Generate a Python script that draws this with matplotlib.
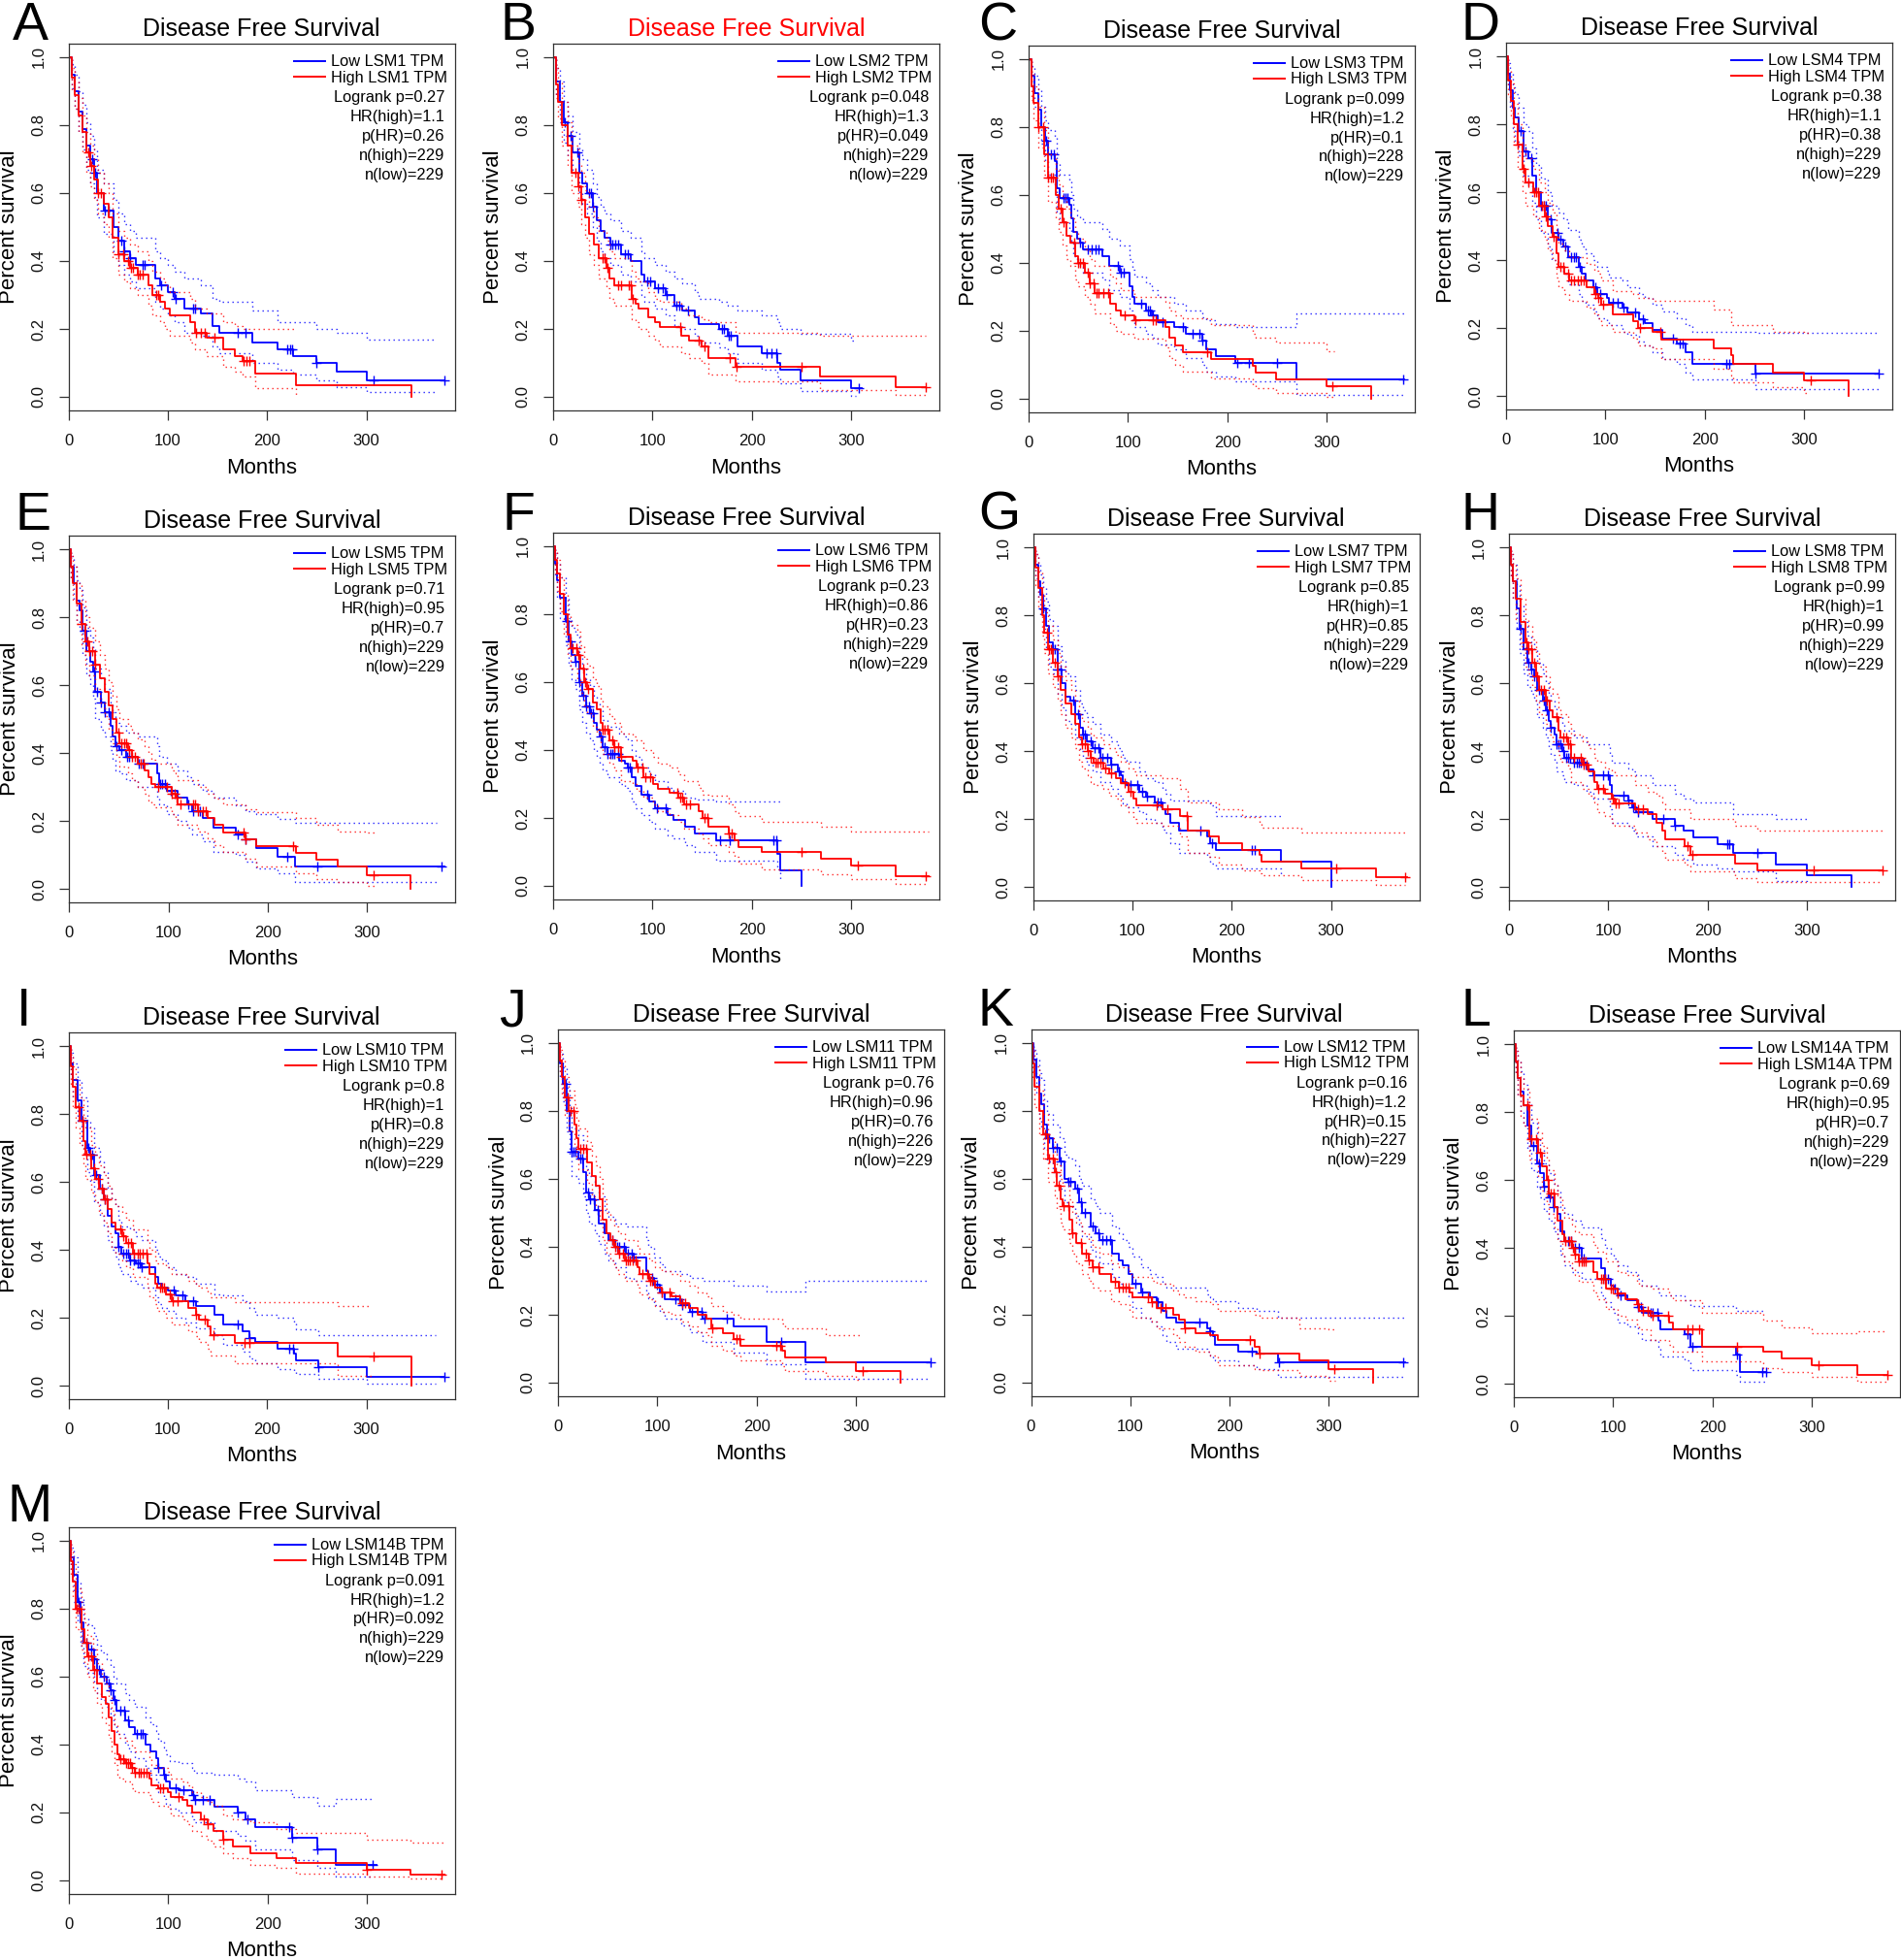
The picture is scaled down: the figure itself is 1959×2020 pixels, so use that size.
import numpy as np
import matplotlib
matplotlib.use('Agg')
import matplotlib.pyplot as plt

plt.rcParams['font.family'] = ['Liberation Sans', 'DejaVu Sans']

# ---------------- data (months, survival) ----------------
# A  LSM1
A_low_t = [0, 3, 6, 10, 14, 18, 22, 26, 29, 35, 45, 50, 56, 62, 68, 87, 92, 100, 107, 117, 133, 145, 152, 185, 210, 226, 250, 270, 300]
A_low_s = [1, .95, .90, .84, .79, .74, .70, .66, .60, .55, .50, .46, .43, .41, .39, .35, .33, .31, .29, .26, .245, .21, .19, .16, .14, .12, .10, .075, .05]
A_low_up = [1, .98, .95, .90, .86, .81, .77, .73, .67, .63, .58, .54, .51, .49, .47, .43, .41, .39, .37, .35, .33, .29, .28, .255, .22, .22, .20, .19, .17]
A_low_lo = [1, .91, .85, .78, .73, .67, .63, .59, .53, .48, .43, .39, .36, .34, .32, .28, .26, .24, .22, .19, .18, .15, .13, .10, .08, .065, .05, .03, .014]
A_low_cens = [24, 27, 36, 40, 53, 56, 62, 75, 77, 93, 105, 108, 125, 127, 170, 178, 220, 223, 225, 250, 307, 379]
A_high_t = [0, 3, 6, 10, 14, 18, 22, 26, 30, 35, 40, 44, 50, 56, 62, 70, 80, 84, 92, 97, 102, 122, 127, 139, 156, 167, 175, 188, 229, 345]
A_high_s = [1, .94, .89, .83, .78, .72, .68, .64, .60, .57, .53, .47, .42, .40, .38, .36, .33, .30, .28, .26, .24, .22, .19, .175, .14, .12, .105, .07, .035, 0]
A_high_up = [1, .97, .93, .88, .83, .78, .74, .70, .66, .63, .60, .54, .49, .47, .45, .43, .40, .37, .35, .33, .31, .29, .26, .245, .22, .21, .20, .20, .20, .20]
A_high_lo = [1, .90, .85, .78, .72, .66, .62, .58, .54, .51, .47, .41, .36, .34, .32, .30, .27, .24, .22, .20, .18, .16, .14, .12, .09, .075, .06, .027, .005, 0]
A_high_cens = [20, 23, 30, 33, 50, 55, 60, 63, 65, 70, 72, 75, 88, 90, 128, 133, 137, 147, 176, 179, 182]

# B  LSM2
B_low_t = [0, 3, 7, 11, 15, 20, 26, 29, 34, 40, 44, 48, 52, 58, 68, 78, 89, 92, 103, 113, 122, 130, 143, 147, 167, 176, 186, 210, 226, 229, 249, 300]
B_low_s = [1, .93, .87, .81, .77, .72, .66, .63, .60, .56, .52, .49, .47, .45, .42, .40, .36, .34, .32, .30, .27, .255, .235, .215, .20, .18, .15, .13, .10, .08, .05, .025]
B_low_up = [1, .97, .93, .87, .83, .78, .73, .70, .67, .63, .59, .56, .54, .52, .49, .47, .43, .41, .39, .37, .35, .335, .31, .29, .28, .27, .255, .24, .22, .20, .185, .165]
B_low_lo = [1, .89, .82, .75, .71, .66, .60, .57, .54, .50, .46, .43, .41, .39, .36, .34, .30, .28, .26, .24, .21, .20, .18, .16, .145, .13, .10, .08, .06, .04, .017, .002]
B_low_cens = [12, 18, 24, 36, 38, 40, 58, 60, 63, 65, 72, 75, 95, 98, 106, 110, 114, 124, 127, 136, 170, 172, 177, 179, 215, 220, 225, 308]
B_high_t = [0, 3, 5, 9, 15, 19, 25, 28, 32, 36, 41, 46, 54, 57, 62, 79, 83, 86, 96, 103, 108, 129, 137, 150, 156, 184, 269, 345]
B_high_s = [1, .92, .87, .80, .74, .66, .62, .58, .53, .48, .45, .41, .38, .35, .33, .29, .275, .26, .235, .22, .205, .18, .165, .15, .115, .09, .06, .03]
B_high_up = [1, .97, .93, .87, .81, .74, .69, .66, .61, .56, .53, .49, .46, .43, .41, .37, .35, .34, .31, .29, .28, .26, .24, .23, .22, .19, .18, .18]
B_high_lo = [1, .88, .82, .74, .68, .60, .56, .51, .47, .42, .39, .35, .32, .29, .27, .23, .22, .20, .18, .165, .15, .13, .115, .10, .065, .045, .02, .005]
B_high_cens = [22, 25, 28, 50, 52, 55, 65, 68, 76, 78, 80, 128, 147, 152, 178, 185, 250, 375]

# C  LSM3
C_low_t = [0, 3, 6, 10, 13, 17, 20, 26, 28, 31, 41, 43, 45, 49, 52, 55, 74, 81, 92, 102, 105, 107, 118, 124, 130, 147, 158, 175, 179, 189, 208, 270]
C_low_s = [1, .95, .90, .85, .80, .76, .72, .70, .62, .59, .57, .53, .49, .47, .46, .44, .42, .39, .37, .33, .30, .28, .26, .245, .225, .21, .19, .17, .145, .125, .105, .055]
C_low_up = [1, .98, .95, .91, .86, .82, .79, .77, .69, .66, .64, .60, .56, .54, .53, .52, .50, .47, .45, .41, .38, .36, .34, .32, .30, .28, .26, .24, .23, .22, .21, .25]
C_low_lo = [1, .92, .86, .80, .75, .70, .66, .63, .55, .52, .50, .46, .42, .40, .39, .37, .35, .32, .30, .26, .23, .21, .19, .18, .16, .145, .12, .10, .08, .065, .05, .01]
C_low_cens = [18, 22, 25, 35, 37, 39, 52, 60, 64, 67, 70, 90, 93, 96, 113, 120, 122, 125, 135, 155, 165, 172, 175, 210, 222, 250, 377]
C_high_t = [0, 3, 5, 10, 16, 20, 27, 30, 34, 38, 42, 47, 50, 57, 62, 66, 82, 88, 93, 107, 138, 142, 148, 155, 184, 226, 229, 249, 300, 345]
C_high_s = [1, .92, .87, .80, .72, .65, .60, .56, .52, .48, .46, .42, .40, .37, .34, .31, .28, .26, .245, .23, .21, .18, .155, .135, .115, .095, .075, .055, .035, 0]
C_high_up = [1, .96, .92, .86, .79, .72, .67, .63, .59, .56, .53, .49, .47, .44, .41, .39, .36, .34, .32, .30, .285, .26, .245, .235, .215, .19, .18, .165, .14, .14]
C_high_lo = [1, .88, .82, .74, .66, .58, .53, .49, .45, .41, .39, .35, .33, .30, .28, .25, .22, .20, .19, .175, .15, .12, .10, .08, .06, .04, .03, .015, .005, 0]
C_high_cens = [10, 15, 20, 22, 24, 32, 35, 46, 50, 52, 55, 60, 62, 65, 68, 70, 75, 80, 97, 108, 125, 128, 180, 306]

# D  LSM4
D_low_t = [0, 2, 4, 7, 9, 13, 18, 22, 26, 30, 35, 42, 46, 53, 58, 63, 73, 76, 80, 88, 92, 102, 104, 117, 122, 134, 140, 148, 157, 172, 181, 188, 251]
D_low_s = [1, .95, .90, .85, .82, .78, .72, .70, .65, .60, .56, .52, .48, .46, .44, .41, .38, .36, .34, .32, .30, .29, .275, .26, .245, .225, .215, .195, .17, .155, .13, .095, .065]
D_low_up = [1, .98, .95, .91, .89, .85, .80, .78, .73, .68, .64, .60, .56, .54, .52, .49, .46, .44, .42, .40, .38, .37, .35, .34, .32, .30, .29, .27, .25, .23, .21, .19, .185]
D_low_lo = [1, .91, .85, .79, .75, .71, .65, .62, .57, .52, .48, .44, .40, .38, .36, .33, .30, .28, .27, .25, .23, .22, .21, .19, .18, .16, .15, .13, .11, .095, .07, .048, .02]
D_low_cens = [15, 20, 25, 35, 38, 40, 45, 52, 55, 60, 65, 68, 70, 74, 90, 95, 108, 112, 118, 130, 138, 168, 175, 178, 222, 225, 251, 375]
D_high_t = [0, 2, 5, 8, 12, 17, 20, 27, 33, 39, 42, 47, 51, 53, 59, 64, 81, 89, 93, 96, 108, 128, 133, 148, 156, 209, 227, 229, 269, 300, 345]
D_high_s = [1, .93, .87, .80, .74, .67, .63, .60, .56, .53, .50, .47, .42, .38, .36, .34, .32, .30, .29, .27, .24, .22, .20, .19, .165, .14, .12, .095, .07, .045, 0]
D_high_up = [1, .96, .92, .86, .80, .74, .70, .67, .63, .60, .57, .54, .49, .45, .43, .41, .39, .37, .36, .34, .31, .30, .29, .28, .28, .255, .21, .21, .19, .185, .185]
D_high_lo = [1, .89, .82, .74, .67, .60, .56, .53, .49, .46, .43, .40, .35, .32, .30, .28, .26, .24, .23, .21, .19, .17, .15, .14, .11, .08, .06, .04, .025, .01, 0]
D_high_cens = [12, 18, 22, 28, 30, 32, 36, 38, 40, 48, 55, 58, 63, 65, 68, 72, 75, 78, 90, 93, 98, 135, 155, 307]

# E  LSM5
E_low_t = [0, 2, 5, 8, 10, 13, 17, 21, 24, 26, 32, 36, 42, 44, 47, 51, 57, 69, 89, 91, 98, 109, 119, 124, 135, 145, 168, 178, 188, 210, 227]
E_low_s = [1, .95, .90, .85, .82, .76, .70, .67, .64, .58, .55, .52, .48, .45, .42, .41, .39, .37, .34, .31, .29, .27, .25, .23, .21, .18, .16, .145, .12, .095, .065]
E_low_up = [1, .98, .95, .91, .88, .83, .77, .74, .71, .65, .62, .59, .55, .52, .49, .48, .46, .45, .42, .39, .37, .35, .33, .31, .29, .27, .245, .23, .22, .205, .195]
E_low_lo = [1, .91, .85, .79, .76, .69, .63, .60, .56, .50, .47, .45, .41, .38, .35, .34, .32, .30, .27, .25, .22, .20, .18, .16, .14, .11, .10, .08, .06, .045, .02]
E_low_cens = [15, 25, 28, 32, 36, 40, 48, 52, 58, 60, 70, 74, 92, 94, 96, 102, 120, 125, 132, 170, 178, 220, 250, 375]
E_high_t = [0, 2, 4, 8, 12, 16, 20, 26, 31, 36, 40, 44, 48, 51, 59, 63, 69, 76, 80, 83, 87, 103, 107, 109, 130, 139, 146, 155, 178, 188, 228, 249, 270, 300, 344]
E_high_s = [1, .95, .90, .84, .78, .73, .70, .66, .62, .58, .54, .50, .46, .43, .41, .39, .37, .35, .33, .31, .30, .28, .27, .25, .23, .21, .19, .165, .145, .125, .105, .085, .065, .04, 0]
E_high_up = [1, .98, .95, .90, .85, .80, .77, .73, .69, .65, .61, .57, .53, .50, .48, .46, .44, .42, .40, .38, .37, .35, .34, .32, .30, .28, .265, .25, .235, .225, .21, .19, .17, .165, .165]
E_high_lo = [1, .91, .85, .78, .72, .66, .63, .59, .55, .51, .47, .43, .39, .36, .34, .32, .30, .28, .26, .25, .24, .22, .21, .19, .17, .15, .13, .11, .09, .065, .045, .03, .02, .01, 0]
E_high_cens = [12, 18, 20, 23, 26, 50, 52, 55, 57, 60, 63, 66, 72, 75, 90, 98, 103, 106, 108, 112, 125, 127, 130, 135, 138, 176, 178, 225, 307]

# F  LSM6
F_low_t = [0, 2, 4, 7, 13, 16, 19, 22, 26, 29, 33, 37, 41, 44, 47, 50, 55, 66, 72, 75, 79, 83, 89, 97, 103, 115, 121, 133, 143, 164, 226, 229, 250]
F_low_s = [1, .95, .90, .85, .78, .72, .68, .66, .60, .56, .53, .51, .48, .46, .44, .41, .39, .37, .36, .35, .32, .295, .27, .25, .23, .21, .195, .175, .155, .135, .095, .045, 0]
F_low_up = [1, .98, .95, .91, .85, .79, .76, .74, .68, .64, .61, .59, .56, .54, .52, .49, .47, .45, .44, .43, .40, .38, .35, .33, .31, .29, .28, .26, .255, .25, .25, .25, .25]
F_low_lo = [1, .91, .85, .79, .71, .65, .61, .58, .52, .48, .45, .43, .40, .38, .36, .34, .32, .30, .29, .28, .25, .23, .21, .19, .17, .15, .14, .12, .10, .075, .05, .02, 0]
F_low_cens = [14, 18, 22, 26, 30, 33, 36, 38, 40, 48, 52, 55, 58, 60, 62, 65, 75, 77, 95, 105, 113, 168, 178, 222, 225]
F_high_t = [0, 2, 4, 7, 11, 15, 18, 24, 27, 31, 34, 40, 44, 48, 50, 57, 62, 68, 80, 84, 91, 101, 106, 117, 126, 132, 147, 151, 156, 177, 183, 187, 210, 270, 300, 345]
F_high_s = [1, .96, .92, .86, .80, .74, .70, .68, .64, .60, .58, .54, .52, .48, .46, .43, .41, .38, .37, .35, .32, .30, .285, .275, .26, .24, .22, .20, .175, .155, .135, .115, .10, .08, .06, .03]
F_high_up = [1, .99, .96, .91, .86, .80, .77, .75, .71, .67, .65, .61, .59, .55, .53, .50, .48, .45, .44, .43, .40, .38, .36, .35, .33, .31, .29, .27, .265, .24, .22, .205, .19, .175, .16, .16]
F_high_lo = [1, .92, .87, .81, .74, .68, .64, .61, .57, .53, .51, .47, .45, .41, .39, .36, .34, .31, .30, .28, .26, .24, .22, .21, .19, .17, .155, .14, .12, .10, .085, .065, .05, .035, .02, .005]
F_high_cens = [20, 23, 25, 30, 32, 35, 50, 52, 55, 60, 62, 65, 68, 85, 90, 93, 98, 125, 128, 130, 134, 138, 152, 155, 177, 180, 250, 307, 375]

# G  LSM7
G_low_t = [0, 2, 5, 7, 10, 13, 16, 20, 25, 29, 33, 37, 42, 47, 50, 54, 60, 68, 78, 85, 88, 90, 94, 107, 114, 122, 130, 133, 138, 147, 175, 178, 184, 250, 300]
G_low_s = [1, .95, .90, .86, .82, .77, .72, .70, .64, .60, .56, .55, .51, .47, .45, .43, .41, .38, .36, .34, .33, .31, .30, .28, .265, .25, .23, .215, .19, .165, .15, .13, .11, .075, 0]
G_low_up = [1, .98, .95, .92, .88, .84, .79, .77, .71, .67, .63, .62, .58, .54, .52, .50, .48, .45, .43, .41, .40, .38, .37, .34, .32, .31, .29, .275, .255, .255, .255, .24, .21, .21, .21]
G_low_lo = [1, .91, .85, .80, .76, .70, .65, .63, .57, .53, .49, .48, .44, .40, .38, .36, .34, .31, .29, .27, .26, .245, .235, .22, .20, .19, .17, .16, .13, .10, .09, .07, .055, .035, 0]
G_low_cens = [10, 20, 22, 25, 28, 40, 45, 50, 52, 58, 62, 66, 70, 75, 78, 86, 98, 105, 110, 115, 125, 128, 168, 180, 220, 223]
G_high_t = [0, 2, 5, 9, 11, 15, 20, 25, 28, 33, 38, 42, 46, 49, 55, 58, 61, 71, 77, 83, 88, 96, 101, 104, 130, 148, 156, 177, 187, 210, 228, 230, 270, 345]
G_high_s = [1, .94, .88, .80, .75, .70, .66, .62, .58, .54, .51, .48, .44, .42, .40, .38, .365, .35, .335, .32, .305, .28, .26, .24, .23, .21, .165, .15, .13, .11, .095, .075, .055, .03]
G_high_up = [1, .98, .93, .86, .81, .77, .73, .69, .65, .61, .58, .55, .51, .49, .47, .45, .44, .42, .41, .39, .37, .35, .34, .33, .32, .29, .25, .25, .23, .205, .19, .175, .16, .16]
G_high_lo = [1, .89, .82, .74, .69, .63, .59, .55, .51, .47, .44, .41, .37, .35, .33, .31, .30, .29, .27, .26, .24, .22, .20, .19, .18, .15, .10, .09, .065, .05, .04, .035, .02, .005]
G_high_cens = [14, 16, 18, 22, 25, 49, 52, 55, 58, 63, 65, 68, 73, 78, 92, 98, 124, 135, 155, 305, 375]

# H  LSM8
H_low_t = [0, 2, 4, 8, 11, 15, 19, 22, 25, 28, 34, 37, 40, 42, 46, 48, 54, 56, 65, 78, 85, 102, 104, 120, 124, 128, 145, 167, 176, 186, 210, 226, 269, 300, 345]
H_low_s = [1, .95, .90, .82, .76, .70, .66, .64, .62, .58, .55, .52, .49, .47, .45, .42, .40, .38, .365, .345, .33, .30, .27, .255, .235, .22, .20, .18, .165, .145, .125, .10, .065, .035, 0]
H_low_up = [1, .98, .95, .89, .83, .78, .74, .72, .70, .66, .63, .60, .57, .55, .53, .50, .48, .46, .44, .42, .42, .39, .365, .35, .34, .33, .30, .275, .26, .25, .25, .215, .20, .20, .20]
H_low_lo = [1, .91, .85, .76, .69, .63, .59, .57, .55, .50, .47, .44, .41, .39, .37, .34, .33, .31, .30, .28, .26, .23, .19, .18, .165, .15, .12, .095, .08, .065, .055, .045, .018, .005, 0]
H_low_cens = [12, 18, 20, 22, 25, 30, 35, 38, 42, 48, 50, 52, 55, 58, 60, 62, 65, 68, 70, 72, 75, 85, 95, 100, 115, 120, 125, 130, 155, 167, 220, 222, 250]
H_high_t = [0, 2, 4, 7, 12, 17, 20, 23, 27, 30, 37, 41, 44, 50, 52, 60, 63, 74, 80, 86, 89, 97, 104, 107, 127, 140, 149, 154, 157, 177, 183, 228, 250]
H_high_s = [1, .95, .90, .85, .78, .72, .70, .66, .62, .58, .55, .52, .50, .46, .44, .42, .38, .36, .34, .31, .29, .275, .26, .245, .23, .215, .19, .165, .14, .12, .095, .07, .05]
H_high_up = [1, .98, .95, .91, .85, .79, .77, .73, .69, .65, .62, .59, .57, .53, .51, .48, .45, .43, .41, .38, .37, .35, .34, .33, .30, .28, .27, .25, .23, .23, .20, .18, .165]
H_high_lo = [1, .91, .85, .79, .71, .65, .63, .59, .55, .51, .48, .45, .43, .39, .37, .35, .31, .29, .27, .25, .22, .21, .19, .18, .16, .14, .12, .10, .08, .065, .045, .025, .015]
H_high_cens = [18, 20, 22, 25, 28, 32, 35, 38, 48, 55, 58, 60, 62, 65, 72, 75, 78, 90, 95, 105, 108, 110, 130, 135, 180, 185, 307, 376]

# I  LSM10
I_low_t = [0, 2, 4, 9, 13, 19, 22, 26, 32, 35, 39, 43, 47, 50, 53, 62, 68, 74, 87, 90, 94, 100, 108, 118, 128, 147, 156, 175, 182, 188, 210, 227, 229, 251, 300]
I_low_s = [1, .95, .90, .84, .78, .70, .68, .62, .58, .55, .50, .47, .45, .41, .39, .37, .36, .35, .32, .30, .29, .28, .265, .25, .235, .21, .18, .16, .14, .13, .11, .095, .075, .055, .025]
I_low_up = [1, .98, .95, .90, .85, .78, .76, .70, .66, .63, .58, .55, .53, .49, .47, .46, .44, .43, .40, .38, .37, .35, .33, .32, .30, .27, .265, .25, .23, .21, .20, .185, .165, .15, .15]
I_low_lo = [1, .91, .85, .78, .71, .63, .60, .54, .50, .47, .43, .40, .38, .35, .33, .31, .30, .29, .26, .24, .23, .22, .20, .185, .17, .15, .12, .10, .08, .065, .05, .04, .035, .02, .005]
I_low_cens = [14, 20, 24, 28, 34, 36, 50, 55, 58, 60, 62, 66, 70, 72, 74, 106, 115, 125, 170, 182, 222, 226, 251, 379]
I_high_t = [0, 2, 4, 7, 11, 15, 17, 23, 27, 31, 35, 39, 43, 47, 54, 58, 65, 79, 81, 87, 89, 98, 104, 121, 128, 131, 140, 143, 167, 271, 345]
I_high_s = [1, .94, .88, .82, .78, .72, .68, .64, .61, .58, .55, .52, .48, .46, .44, .42, .39, .36, .33, .30, .29, .27, .25, .23, .21, .195, .175, .15, .125, .085, 0]
I_high_up = [1, .97, .94, .89, .85, .79, .76, .71, .68, .65, .62, .59, .55, .53, .51, .49, .46, .43, .40, .37, .36, .35, .33, .31, .295, .29, .275, .26, .245, .235, .235]
I_high_lo = [1, .89, .82, .76, .71, .65, .61, .57, .54, .51, .48, .45, .41, .39, .37, .35, .32, .29, .26, .24, .22, .20, .18, .16, .145, .13, .11, .09, .065, .03, 0]
I_high_cens = [10, 14, 18, 22, 26, 30, 34, 36, 38, 52, 55, 60, 63, 66, 70, 72, 75, 78, 92, 94, 96, 102, 105, 110, 128, 137, 146, 177, 182, 307]

# J  LSM11
J_low_t = [0, 2, 5, 9, 12, 14, 21, 25, 28, 31, 37, 41, 47, 51, 58, 68, 76, 89, 91, 97, 103, 108, 124, 133, 146, 177, 210, 249]
J_low_s = [1, .94, .88, .80, .74, .68, .66, .62, .56, .54, .51, .47, .44, .42, .40, .38, .37, .33, .31, .29, .265, .245, .23, .21, .19, .165, .12, .06]
J_low_up = [1, .97, .93, .87, .81, .75, .73, .69, .63, .61, .58, .55, .51, .49, .47, .46, .46, .42, .40, .37, .35, .33, .32, .31, .30, .285, .27, .30]
J_low_lo = [1, .90, .83, .74, .67, .61, .59, .55, .50, .47, .44, .41, .38, .36, .34, .31, .30, .27, .25, .23, .21, .19, .17, .15, .12, .09, .055, .012]
J_low_cens = [8, 14, 16, 18, 22, 24, 30, 32, 36, 40, 55, 60, 62, 66, 70, 74, 76, 95, 100, 105, 118, 122, 125, 135, 145, 148, 170, 225, 375]
J_high_t = [0, 2, 4, 7, 11, 17, 19, 21, 29, 34, 38, 42, 45, 49, 53, 57, 61, 67, 80, 82, 92, 98, 105, 114, 123, 132, 141, 150, 154, 166, 177, 184, 226, 229, 270, 300, 345]
J_high_s = [1, .95, .90, .84, .80, .76, .72, .69, .65, .61, .58, .54, .48, .44, .42, .40, .38, .36, .34, .32, .30, .28, .265, .255, .235, .22, .20, .19, .16, .145, .13, .11, .095, .075, .06, .035, 0]
J_high_up = [1, .98, .95, .90, .86, .82, .78, .75, .71, .67, .64, .60, .54, .50, .48, .46, .44, .42, .40, .38, .36, .34, .33, .32, .30, .285, .265, .255, .225, .21, .20, .19, .175, .16, .14, .14, .14]
J_high_lo = [1, .91, .85, .79, .74, .70, .66, .63, .59, .55, .52, .48, .42, .38, .36, .34, .32, .30, .28, .26, .245, .225, .21, .20, .18, .165, .15, .14, .11, .095, .08, .065, .05, .035, .02, .01, 0]
J_high_cens = [10, 13, 16, 22, 25, 28, 55, 58, 62, 65, 68, 70, 72, 75, 78, 85, 90, 93, 95, 105, 112, 125, 128, 155, 180, 183, 220, 224, 307]

# K  LSM12
K_low_t = [0, 2, 5, 8, 10, 13, 16, 22, 29, 34, 38, 44, 48, 51, 60, 65, 69, 82, 88, 92, 98, 102, 111, 120, 127, 132, 136, 146, 177, 180, 183, 185, 209, 227, 249]
K_low_s = [1, .95, .90, .85, .82, .76, .72, .69, .65, .60, .59, .57, .53, .50, .46, .44, .42, .38, .36, .345, .32, .29, .265, .25, .235, .21, .19, .175, .16, .15, .135, .11, .09, .085, .06]
K_low_up = [1, .98, .95, .91, .89, .83, .79, .76, .72, .67, .66, .64, .60, .58, .54, .52, .50, .46, .44, .42, .40, .37, .34, .32, .31, .29, .28, .28, .26, .25, .245, .24, .22, .21, .19]
K_low_lo = [1, .91, .85, .78, .75, .69, .65, .62, .57, .53, .52, .49, .46, .43, .39, .37, .35, .31, .29, .28, .25, .22, .19, .18, .165, .14, .12, .10, .09, .08, .07, .065, .05, .04, .015]
K_low_cens = [18, 22, 26, 30, 38, 40, 46, 50, 54, 62, 68, 72, 76, 80, 105, 112, 128, 170, 180, 222, 250, 375]
K_high_t = [0, 1, 3, 8, 12, 17, 24, 26, 30, 32, 39, 42, 45, 51, 58, 62, 69, 81, 88, 99, 102, 122, 127, 143, 149, 155, 166, 180, 188, 225, 230, 270, 300, 345]
K_high_s = [1, .94, .87, .80, .73, .66, .62, .58, .54, .52, .48, .44, .41, .38, .36, .34, .32, .295, .28, .265, .25, .235, .22, .20, .185, .16, .145, .14, .125, .105, .085, .065, .04, 0]
K_high_up = [1, .98, .93, .86, .79, .72, .68, .64, .60, .58, .54, .50, .47, .44, .42, .40, .38, .35, .34, .32, .31, .30, .29, .27, .26, .25, .24, .23, .21, .20, .19, .16, .155, .155]
K_high_lo = [1, .89, .81, .73, .66, .59, .55, .51, .47, .45, .41, .38, .35, .32, .30, .28, .27, .24, .23, .21, .19, .18, .16, .14, .12, .105, .09, .08, .05, .04, .035, .02, .005, 0]
K_high_cens = [14, 18, 22, 25, 28, 33, 38, 42, 50, 55, 58, 62, 68, 85, 88, 92, 95, 98, 118, 122, 130, 135, 155, 220, 230, 305]

# L  LSM14A
L_low_t = [0, 2, 4, 7, 10, 14, 18, 23, 26, 30, 35, 40, 44, 47, 51, 59, 68, 88, 92, 98, 101, 105, 114, 125, 129, 146, 148, 172, 178, 224, 228]
L_low_s = [1, .95, .90, .86, .82, .76, .70, .65, .62, .58, .55, .52, .50, .45, .42, .40, .37, .34, .31, .29, .28, .26, .245, .225, .21, .185, .16, .145, .11, .085, .035]
L_low_up = [1, .98, .95, .92, .88, .83, .77, .72, .69, .65, .62, .59, .57, .52, .50, .48, .46, .43, .40, .38, .37, .35, .33, .31, .29, .27, .26, .245, .23, .215, .215]
L_low_lo = [1, .91, .85, .80, .76, .69, .63, .58, .55, .51, .48, .45, .43, .38, .35, .33, .31, .26, .24, .22, .21, .18, .17, .15, .13, .11, .08, .07, .04, .025, .005]
L_low_cens = [20, 25, 30, 36, 40, 55, 58, 62, 65, 70, 92, 95, 102, 108, 125, 128, 138, 140, 145, 175, 180, 225, 250, 254]
L_high_t = [0, 2, 4, 7, 10, 16, 24, 28, 33, 35, 41, 44, 49, 51, 59, 62, 65, 80, 84, 93, 105, 112, 124, 126, 138, 156, 160, 190, 251, 270, 300, 346]
L_high_s = [1, .95, .90, .85, .82, .72, .68, .64, .60, .56, .52, .48, .44, .42, .40, .38, .36, .33, .31, .28, .265, .25, .235, .215, .20, .18, .16, .11, .095, .075, .055, .025]
L_high_up = [1, .98, .95, .90, .87, .78, .74, .70, .66, .63, .59, .55, .51, .49, .47, .45, .44, .41, .39, .36, .33, .32, .30, .29, .28, .26, .245, .21, .185, .165, .15, .155]
L_high_lo = [1, .91, .85, .79, .76, .66, .61, .57, .53, .50, .46, .42, .38, .36, .34, .32, .30, .27, .25, .22, .20, .19, .17, .16, .13, .115, .095, .065, .045, .035, .02, .005]
L_high_cens = [14, 18, 22, 26, 34, 37, 40, 52, 56, 58, 60, 62, 65, 68, 70, 72, 88, 90, 92, 98, 100, 105, 125, 130, 135, 140, 155, 175, 180, 187, 225, 307, 376]

# M  LSM14B
M_low_t = [0, 2, 5, 9, 12, 15, 20, 25, 28, 32, 38, 42, 45, 48, 57, 61, 66, 77, 82, 88, 90, 96, 98, 102, 110, 124, 126, 147, 170, 178, 188, 225, 250, 269]
M_low_s = [1, .95, .90, .82, .76, .70, .68, .65, .62, .60, .58, .56, .53, .50, .47, .45, .43, .40, .38, .36, .33, .31, .29, .27, .265, .25, .235, .215, .20, .18, .155, .125, .09, .045]
M_low_up = [1, .98, .95, .88, .83, .77, .75, .72, .69, .67, .65, .63, .60, .58, .55, .53, .51, .48, .46, .44, .41, .39, .37, .35, .345, .33, .315, .31, .30, .29, .265, .245, .22, .24]
M_low_lo = [1, .91, .85, .76, .69, .63, .61, .58, .55, .53, .51, .49, .46, .43, .40, .38, .36, .33, .31, .29, .26, .24, .225, .21, .20, .18, .17, .145, .13, .115, .09, .06, .035, .01]
M_low_cens = [10, 18, 22, 25, 30, 35, 40, 42, 46, 52, 56, 60, 68, 72, 74, 90, 96, 108, 115, 125, 127, 135, 142, 170, 180, 222, 225, 250, 306]
M_high_t = [0, 2, 4, 7, 13, 16, 19, 24, 28, 33, 37, 40, 43, 46, 49, 51, 57, 64, 66, 81, 83, 90, 100, 103, 114, 119, 124, 133, 140, 146, 155, 165, 183, 209, 229, 300, 344]
M_high_s = [1, .94, .88, .80, .74, .70, .66, .62, .58, .54, .52, .48, .44, .40, .37, .355, .345, .33, .315, .30, .28, .27, .26, .245, .235, .22, .20, .18, .165, .145, .12, .10, .08, .065, .05, .03, .015]
M_high_up = [1, .97, .93, .86, .80, .76, .72, .68, .64, .60, .58, .54, .50, .46, .43, .42, .41, .39, .38, .36, .34, .33, .32, .30, .29, .28, .26, .245, .23, .22, .19, .18, .17, .15, .14, .12, .11]
M_high_lo = [1, .90, .83, .74, .68, .64, .60, .56, .52, .48, .46, .42, .38, .34, .31, .30, .29, .27, .26, .25, .23, .22, .21, .19, .18, .165, .145, .13, .115, .10, .08, .065, .045, .035, .02, .012, .005]
M_high_cens = [8, 10, 18, 20, 22, 25, 52, 55, 58, 60, 62, 64, 66, 70, 72, 75, 78, 92, 95, 110, 136, 140, 155, 300, 375]

# last follow-up time of each curve and where its dotted band stops
low_end = [379, 311, 378, 375, 378, 250, 300, 345, 379, 374, 377, 254, 310]
low_ci_end = [370, 305, 378, 375, 370, 229, 251, 300, 370, 374, 377, 254, 306]
high_end = [345, 375, 345, 345, 344, 378, 377, 376, 345, 345, 345, 376, 378]
high_ci_end = [229, 375, 308, 305, 308, 378, 375, 376, 305, 306, 306, 376, 378]

letters = ['A', 'B', 'C', 'D', 'E', 'F', 'G', 'H', 'I', 'J', 'K', 'L', 'M']
genes = ['LSM1', 'LSM2', 'LSM3', 'LSM4', 'LSM5', 'LSM6', 'LSM7', 'LSM8', 'LSM10', 'LSM11', 'LSM12', 'LSM14A', 'LSM14B']
logrank_p = ['0.27', '0.048', '0.099', '0.38', '0.71', '0.23', '0.85', '0.99', '0.8', '0.76', '0.16', '0.69', '0.091']
hr_high = ['1.1', '1.3', '1.2', '1.1', '0.95', '0.86', '1', '1', '1', '0.96', '1.2', '0.95', '1.2']
p_hr = ['0.26', '0.049', '0.1', '0.38', '0.7', '0.23', '0.85', '0.99', '0.8', '0.76', '0.15', '0.7', '0.092']
n_high = [229, 229, 228, 229, 229, 229, 229, 229, 229, 226, 227, 229, 229]
n_low = [229, 229, 229, 229, 229, 229, 229, 229, 229, 229, 229, 229, 229]

low_curves = [
    (A_low_t, A_low_s, A_low_up, A_low_lo, A_low_cens),
    (B_low_t, B_low_s, B_low_up, B_low_lo, B_low_cens),
    (C_low_t, C_low_s, C_low_up, C_low_lo, C_low_cens),
    (D_low_t, D_low_s, D_low_up, D_low_lo, D_low_cens),
    (E_low_t, E_low_s, E_low_up, E_low_lo, E_low_cens),
    (F_low_t, F_low_s, F_low_up, F_low_lo, F_low_cens),
    (G_low_t, G_low_s, G_low_up, G_low_lo, G_low_cens),
    (H_low_t, H_low_s, H_low_up, H_low_lo, H_low_cens),
    (I_low_t, I_low_s, I_low_up, I_low_lo, I_low_cens),
    (J_low_t, J_low_s, J_low_up, J_low_lo, J_low_cens),
    (K_low_t, K_low_s, K_low_up, K_low_lo, K_low_cens),
    (L_low_t, L_low_s, L_low_up, L_low_lo, L_low_cens),
    (M_low_t, M_low_s, M_low_up, M_low_lo, M_low_cens),
]
high_curves = [
    (A_high_t, A_high_s, A_high_up, A_high_lo, A_high_cens),
    (B_high_t, B_high_s, B_high_up, B_high_lo, B_high_cens),
    (C_high_t, C_high_s, C_high_up, C_high_lo, C_high_cens),
    (D_high_t, D_high_s, D_high_up, D_high_lo, D_high_cens),
    (E_high_t, E_high_s, E_high_up, E_high_lo, E_high_cens),
    (F_high_t, F_high_s, F_high_up, F_high_lo, F_high_cens),
    (G_high_t, G_high_s, G_high_up, G_high_lo, G_high_cens),
    (H_high_t, H_high_s, H_high_up, H_high_lo, H_high_cens),
    (I_high_t, I_high_s, I_high_up, I_high_lo, I_high_cens),
    (J_high_t, J_high_s, J_high_up, J_high_lo, J_high_cens),
    (K_high_t, K_high_s, K_high_up, K_high_lo, K_high_cens),
    (L_high_t, L_high_s, L_high_up, L_high_lo, L_high_cens),
    (M_high_t, M_high_s, M_high_up, M_high_lo, M_high_cens),
]

# ---------------- layout (pixels of the 1959x2020 picture) ----------------
W, H = 1959, 2020
BW, BH = 398, 378
box_left = [70.7, 570, 1060, 1552, 71.3, 570, 1064.7, 1555, 70.7, 575, 1062.5, 1560, 71]
box_top = [45, 45, 46.7, 44, 552, 549, 550, 550, 1064, 1061, 1060.7, 1062, 1573.7]
letter_x = [13, 515, 1008, 1506, 15, 517, 1008, 1506, 17, 514, 1008, 1505, 8]
letter_base = [41, 41, 41, 41, 546, 546, 546, 546, 1057, 1057, 1057, 1057, 1568]

BLUE = '#0000FF'
RED = '#FF0000'
FS_SMALL = 11.8

fig = plt.figure(figsize=(W / 100, H / 100), dpi=100)
renderer = fig.canvas.get_renderer()


def fx(px):
    return px / W


def fy(py):
    return 1 - py / H


def draw_curve(ax, t, s, up, lo, cens, end, ci_end, color):
    t = np.asarray(t, float)
    s = np.asarray(s, float)
    up = np.asarray(up, float)
    lo = np.asarray(lo, float)
    n = min(len(t), len(s), len(up), len(lo))
    t, s, up, lo = t[:n], s[:n], up[:n], lo[:n]
    # confidence band (dotted)
    keep = t <= ci_end
    tc = np.append(t[keep], ci_end)
    for band in (up, lo):
        b = band[keep]
        ax.step(tc, np.append(b, b[-1]), where='post', color=color,
                lw=1.0, ls=(0, (1, 2.6)), alpha=0.85)
    # survival estimate
    ax.step(np.append(t, end), np.append(s, s[-1]), where='post',
            color=color, lw=1.3)
    # censor marks
    c = np.asarray(cens, float)
    idx = np.clip(np.searchsorted(t, c, side='right') - 1, 0, n - 1)
    ax.plot(c, s[idx], ls='none', marker='+', ms=6.5, mew=1.0, color=color)


for i in range(13):
    L, T = box_left[i], box_top[i]
    ax = fig.add_axes([fx(L), fy(T + BH), BW / W, BH / H])
    lt, ls_, lup, llo, lc = low_curves[i]
    ht, hs, hup, hlo, hc = high_curves[i]
    draw_curve(ax, lt, ls_, lup, llo, lc, low_end[i], low_ci_end[i], BLUE)
    draw_curve(ax, ht, hs, hup, hlo, hc, high_end[i], high_ci_end[i], RED)

    ax.set_xlim(0, 389)
    ax.set_ylim(-0.04, 1.04)
    ax.set_xticks([0, 100, 200, 300])
    ax.set_yticks([0, 0.2, 0.4, 0.6, 0.8, 1.0])
    ax.set_yticklabels(['0.0', '0.2', '0.4', '0.6', '0.8', '1.0'], rotation=90, va='center')
    ax.tick_params(direction='out', length=7.2, width=0.9, color='#333333',
                   labelsize=12, labelcolor='#111111')
    ax.tick_params(axis='x', pad=10)
    ax.tick_params(axis='y', pad=9.5)
    for sp in ax.spines.values():
        sp.set_color('#333333')
        sp.set_linewidth(0.9)

    # panel letter, title, axis labels
    fig.text(fx(letter_x[i]), fy(letter_base[i]), letters[i], fontsize=40,
             ha='left', va='baseline', color='black')
    fig.text(fx(L + BW / 2), fy(T - 8), 'Disease Free Survival', fontsize=18,
             ha='center', va='baseline', color=RED if i == 1 else 'black')
    fig.text(fx(L - 61), fy(T + BH / 2), 'Percent survival', fontsize=16,
             rotation=90, ha='center', va='center')
    fig.text(fx(L + BW / 2), fy(T + BH + 59), 'Months', fontsize=16,
             ha='center', va='center')

    # legend (right aligned block)
    R = L + BW
    lab_low = 'Low %s TPM' % genes[i]
    lab_high = 'High %s TPM' % genes[i]
    probe = fig.text(0, 0, lab_high, fontsize=FS_SMALL)
    wpx = probe.get_window_extent(renderer).width
    probe.remove()
    tx = R - 8 - wpx
    for lab, col, base in ((lab_low, BLUE, 23.3), (lab_high, RED, 39.7)):
        fig.text(fx(tx), fy(T + base), lab, fontsize=FS_SMALL, ha='left', va='baseline')
        yl = fy(T + base - 5.5)
        fig.add_artist(plt.Line2D([fx(tx - 38), fx(tx - 6)], [yl, yl], color=col, lw=1.4))
    stats = ['Logrank p=%s' % logrank_p[i], 'HR(high)=%s' % hr_high[i],
             'p(HR)=%s' % p_hr[i], 'n(high)=%d' % n_high[i], 'n(low)=%d' % n_low[i]]
    for k, line in enumerate(stats):
        fig.text(fx(R - 10.7), fy(T + 60 + 19.9 * k), line, fontsize=FS_SMALL,
                 ha='right', va='baseline')

fig.savefig('out.png', dpi=100)
